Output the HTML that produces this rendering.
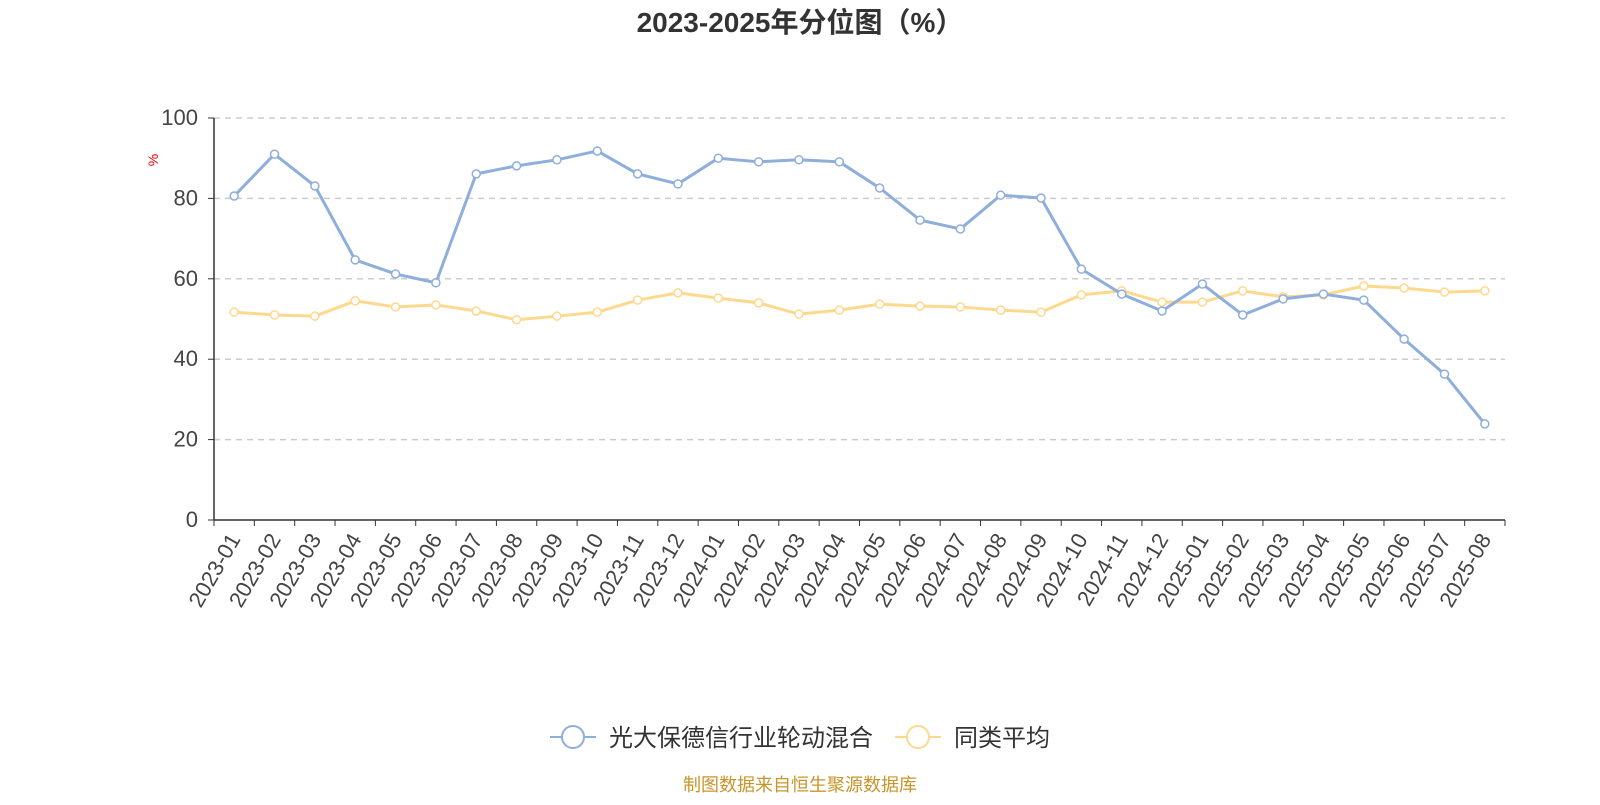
<!DOCTYPE html>
<html><head><meta charset="utf-8"><style>
body{margin:0;background:#fff;}
svg text{font-family:"Liberation Sans","Noto Sans CJK SC",sans-serif;}
</style></head><body>
<svg id="c" width="1600" height="800" xmlns="http://www.w3.org/2000/svg">
<text x="800" y="32" text-anchor="middle" font-size="28" font-weight="bold" fill="#333">2023-2025年分位图（%）</text>
<text x="158" y="160" font-size="14" fill="#e00" transform="rotate(-90 158 160)" text-anchor="middle">%</text>
<g id="grid"></g><g id="axes"></g><g id="series"></g>
<g>
<line x1="550" y1="737" x2="596" y2="737" stroke="#8eaedc" stroke-width="2"/>
<circle cx="573" cy="737" r="11" fill="#fff" stroke="#8eaedc" stroke-width="2"/>
<text x="609" y="746" font-size="24" fill="#333">光大保德信行业轮动混合</text>
<line x1="895" y1="737" x2="941" y2="737" stroke="#fdd98e" stroke-width="2"/>
<circle cx="918" cy="737" r="11" fill="#fff" stroke="#fdd98e" stroke-width="2"/>
<text x="954" y="746" font-size="24" fill="#333">同类平均</text>
</g>
<text x="800" y="791" text-anchor="middle" font-size="18" fill="#c8952a">制图数据来自恒生聚源数据库</text>
</svg>
<script>
const categories=["2023-01","2023-02","2023-03","2023-04","2023-05","2023-06","2023-07","2023-08","2023-09","2023-10","2023-11","2023-12","2024-01","2024-02","2024-03","2024-04","2024-05","2024-06","2024-07","2024-08","2024-09","2024-10","2024-11","2024-12","2025-01","2025-02","2025-03","2025-04","2025-05","2025-06","2025-07","2025-08"];
const fundValues=[80.6,91.0,83.1,64.7,61.2,59.0,86.1,88.1,89.6,91.8,86.1,83.6,90.0,89.1,89.6,89.1,82.6,74.6,72.4,80.8,80.1,62.4,56.2,52.0,58.7,51.0,55.0,56.2,54.7,45.0,36.3,23.9];
const avgValues=[51.7,51.0,50.7,54.5,53.0,53.5,52.0,49.8,50.7,51.7,54.7,56.5,55.2,54.0,51.2,52.2,53.7,53.2,53.0,52.2,51.7,56.0,57.0,54.2,54.2,57.0,55.5,56.0,58.2,57.7,56.7,57.0];
const yTicks=[0,20,40,60,80,100];
const NS="http://www.w3.org/2000/svg";
const L=214,R=1505,T=118,B=520;
const bw=(R-L)/categories.length;
const xs=i=>L+bw*(i+0.5);
const ys=v=>B-(v/100)*(B-T);
function mk(tag,attrs,parent){const e=document.createElementNS(NS,tag);for(const k in attrs)e.setAttribute(k,attrs[k]);parent.appendChild(e);return e;}
const grid=document.getElementById('grid'),axes=document.getElementById('axes'),series=document.getElementById('series');
yTicks.forEach(v=>{
  if(v>0){const g=mk('line',{x1:L,x2:R,y1:ys(v),y2:ys(v),stroke:'#ccc','stroke-width':1.5,'stroke-dasharray':'6,5'},grid);
  
  }
  const t=mk('text',{x:L-16,y:ys(v)+7,'text-anchor':'end','font-size':22,fill:'#444'},axes);
  t.textContent=v;
  
  
  mk('line',{x1:L-6,x2:L,y1:ys(v),y2:ys(v),stroke:'#333'},axes);
});
const ya=mk('line',{x1:L,x2:L,y1:T,y2:B,stroke:'#333','stroke-width':1.5},axes);


const xa=mk('line',{x1:L,x2:R,y1:B,y2:B,stroke:'#333','stroke-width':1.5},axes);


for(let i=0;i<=categories.length;i++)mk('line',{x1:L+bw*i,x2:L+bw*i,y1:B,y2:B+6,stroke:'#333'},axes);
categories.forEach((c,i)=>{
  const x=xs(i)+7,y=B+19;
  const t=mk('text',{x:x,y:y,'text-anchor':'end','font-size':22,fill:'#444',transform:`rotate(-60 ${x} ${y})`},axes);
  t.textContent=c;
  
  
});
function draw(vals,color,name){
  const p=mk('polyline',{points:vals.map((v,i)=>xs(i)+','+ys(v)).join(' '),fill:'none',stroke:color,'stroke-width':3,'stroke-linejoin':'round'},series);
  
  
  vals.forEach((v,i)=>{const c=mk('circle',{cx:xs(i),cy:ys(v),r:4,fill:'#fff',stroke:color,'stroke-width':1.5},series);
  
  });
}
draw(avgValues,'#fdd98e','avg');
draw(fundValues,'#8eaedc','fund');
</script>
</body></html>
